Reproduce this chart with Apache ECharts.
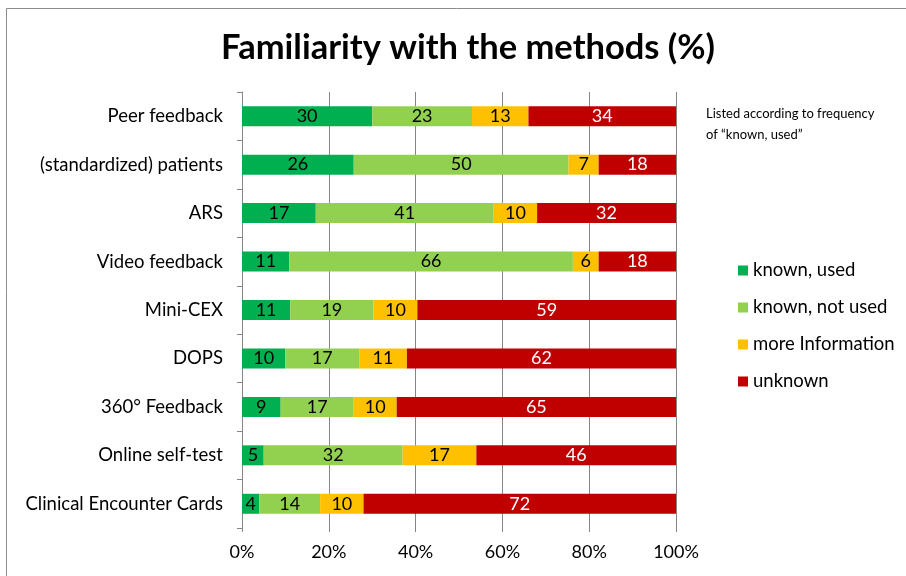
<!DOCTYPE html>
<html>
<head>
<meta charset="utf-8">
<script src="https://cdn.jsdelivr.net/npm/echarts@6/dist/echarts.min.js"></script>
<style>
    html, body { margin: 0; padding: 0; background: #fff; }
    #chart { width: 906px; height: 576px; }
</style>
</head>
<body>
<div id="chart"></div>
<script>
// categories, top to bottom
var categories = [
    "Peer feedback",
    "(standardized) patients",
    "ARS",
    "Video feedback",
    "Mini-CEX",
    "DOPS",
    "360° Feedback",
    "Online self-test",
    "Clinical Encounter Cards"
];
var seriesNames = ["known, used", "known, not used", "more Information", "unknown"];
var knownUsed = [30, 26, 17, 11, 11, 10, 9, 5, 4];
var knownNotUsed = [23, 50, 41, 66, 19, 17, 17, 32, 14];
var moreInfo = [13, 7, 10, 6, 10, 11, 10, 17, 10];
var unknown = [34, 18, 32, 18, 59, 62, 65, 46, 72];
var xTicks = [0, 20, 40, 60, 80, 100];

var colors = ["#00B050", "#92D050", "#FFC000", "#C00000"];
var labelColors = ["#000", "#000", "#000", "#fff"];
var font = "Lato";

var raw = [knownUsed, knownNotUsed, moreInfo, unknown];
// 100% stacked: each row scaled to its total
var totals = categories.map(function (c, i) {
    return raw.reduce(function (s, arr) { return s + arr[i]; }, 0);
});

var series = raw.map(function (arr, k) {
    return {
        name: seriesNames[k],
        type: "bar",
        stack: "all",
        barWidth: 20,
        itemStyle: { color: colors[k] },
        label: {
            show: true,
            position: "inside",
            fontFamily: font,
            fontSize: 18,
            color: labelColors[k],
            formatter: function (p) { return arr[p.dataIndex]; }
        },
        data: arr.map(function (v, i) { return v / totals[i] * 100; })
    };
});

var chart = echarts.init(document.getElementById("chart"));
chart.setOption({
    animation: false,
    backgroundColor: "#fff",
    title: {
        text: "Familiarity with the methods (%)",
        left: 216,
        top: 25,
        textStyle: { fontFamily: font, fontSize: 34.5, fontWeight: "bold", color: "#000" }
    },
    legend: {
        orient: "vertical",
        left: 733,
        top: 256,
        icon: "rect",
        itemWidth: 10,
        itemHeight: 10,
        itemGap: 18,
        textStyle: { fontFamily: font, fontSize: 18.5, color: "#000" },
        data: seriesNames
    },
    grid: { left: 242, right: 230, top: 92, bottom: 48 },
    xAxis: {
        type: "value",
        min: 0,
        max: 100,
        interval: 20,
        axisLine: { show: false },
        axisTick: { show: true, length: 4, lineStyle: { color: "#868686" } },
        splitLine: { show: true, lineStyle: { color: "#868686", width: 1 } },
        axisLabel: {
            fontFamily: font,
            fontSize: 18,
            color: "#000",
            margin: 15,
            formatter: function (v) { return xTicks.indexOf(v) >= 0 ? v + "%" : ""; }
        }
    },
    yAxis: {
        type: "category",
        inverse: true,
        data: categories,
        axisLine: { show: true, lineStyle: { color: "#868686" } },
        axisTick: { show: true, length: 5, lineStyle: { color: "#868686" } },
        axisLabel: { fontFamily: font, fontSize: 18.5, color: "#000", margin: 19 }
    },
    graphic: [
        {
            type: "rect",
            shape: { x: 6.5, y: 8.5, width: 1000, height: 1000 },
            style: { fill: null, stroke: "#8c8c8c", lineWidth: 1 },
            silent: true
        },
        {
            type: "text",
            left: 706,
            top: 103,
            style: {
                text: "Listed according to frequency\nof \u201Cknown, used\u201D",
                fontFamily: font,
                fontSize: 13,
                lineHeight: 21,
                fill: "#000"
            }
        }
    ],
    series: series
});
</script>
</body>
</html>
